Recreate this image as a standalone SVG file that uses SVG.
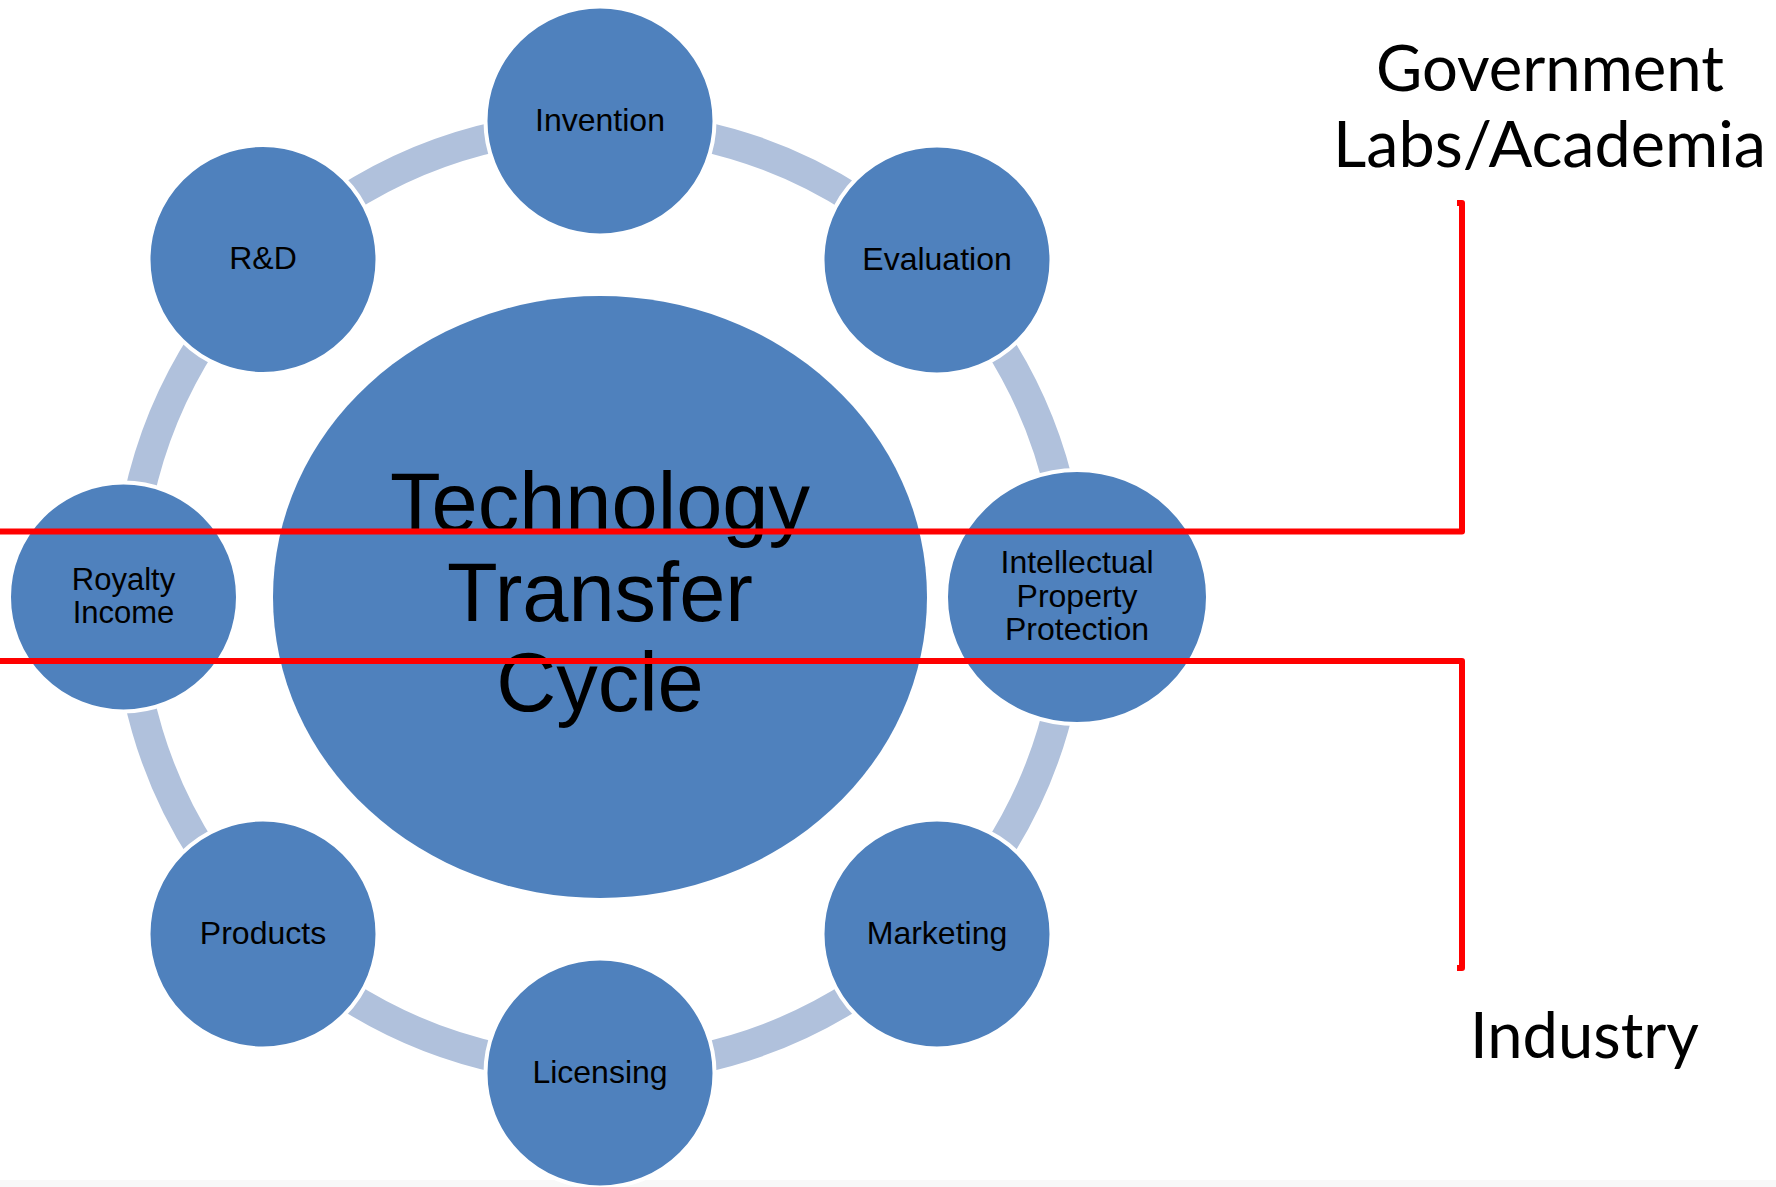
<svg xmlns="http://www.w3.org/2000/svg" width="1776" height="1187" viewBox="0 0 1776 1187">
<style>
.node{fill:#4F81BD;stroke:#FFFFFF;stroke-width:4}
.lbl{font-family:"Liberation Sans",Arial,sans-serif;font-size:32px;fill:#000;text-anchor:middle}
.big{font-family:"Liberation Sans",Arial,sans-serif;font-size:83px;fill:#000;text-anchor:middle}
.side{font-family:Lato,"Open Sans",sans-serif;font-size:64px;fill:#000}
.arc{fill:none;stroke:#B0C1DC;stroke-width:30;stroke-linecap:butt}
.red{fill:none;stroke:#FF0000;stroke-width:6;stroke-linejoin:round;stroke-linecap:butt}
</style>
<rect x="0" y="0" width="1776" height="1187" fill="#FFFFFF"/>
<rect x="0" y="1180" width="1776" height="7" fill="#F8F8F8"/>
<g id="connectors">
<path class="arc" d="M698.1 135.3 A472 472 0 0 1 857.1 201.1"/>
<path class="arc" d="M995.9 339.9 A472 472 0 0 1 1061.7 498.9"/>
<path class="arc" d="M1061.7 695.1 A472 472 0 0 1 995.9 854.1"/>
<path class="arc" d="M857.1 992.9 A472 472 0 0 1 698.1 1058.7"/>
<path class="arc" d="M501.9 1058.7 A472 472 0 0 1 342.9 992.9"/>
<path class="arc" d="M204.1 854.1 A472 472 0 0 1 138.3 695.1"/>
<path class="arc" d="M138.3 498.9 A472 472 0 0 1 204.1 339.9"/>
<path class="arc" d="M342.9 201.1 A472 472 0 0 1 501.9 135.3"/>
</g>
<g id="center">
<ellipse cx="600" cy="597" rx="327" ry="301" fill="#4F81BD"/>
<text class="big" x="600" y="531">Technology</text>
<text class="big" x="600" y="621">Transfer</text>
<text class="big" x="600" y="711">Cycle</text>
</g>
<g id="invention"><circle class="node" cx="600" cy="121" r="114.5"/><text class="lbl" x="600" y="131">Invention</text></g>
<g id="evaluation"><circle class="node" cx="937" cy="260" r="114.5"/><text class="lbl" x="937" y="270">Evaluation</text></g>
<g id="ip"><ellipse class="node" cx="1077" cy="597" rx="131" ry="127"/>
<text class="lbl" x="1077" y="573">Intellectual</text><text class="lbl" x="1077" y="607">Property</text><text class="lbl" x="1077" y="640">Protection</text></g>
<g id="marketing"><circle class="node" cx="937" cy="934" r="114.5"/><text class="lbl" x="937" y="944">Marketing</text></g>
<g id="licensing"><circle class="node" cx="600" cy="1073" r="114.5"/><text class="lbl" x="600" y="1083">Licensing</text></g>
<g id="products"><circle class="node" cx="263" cy="934" r="114.5"/><text class="lbl" x="263" y="944">Products</text></g>
<g id="royalty"><circle class="node" cx="123.5" cy="597" r="114.5"/>
<text class="lbl" x="123.5" y="590" style="font-size:31px">Royalty</text><text class="lbl" x="123.5" y="623" style="font-size:31px">Income</text></g>
<g id="rd"><circle class="node" cx="263" cy="259.5" r="114.5"/><text class="lbl" x="263" y="269">R&amp;D</text></g>
<g id="brackets">
<path class="red" d="M1457 203 L1462 203 L1462 531.5 L0 531.5"/>
<path class="red" d="M0 661 L1462 661 L1462 968 L1457 968"/>
</g>
<g id="labels">
<text class="side" x="1376" y="91" textLength="348" lengthAdjust="spacingAndGlyphs">Government</text>
<text class="side" x="1333" y="167" textLength="433" lengthAdjust="spacingAndGlyphs">Labs/Academia</text>
<text class="side" x="1470" y="1058" textLength="229" lengthAdjust="spacingAndGlyphs">Industry</text>
</g>
</svg>
